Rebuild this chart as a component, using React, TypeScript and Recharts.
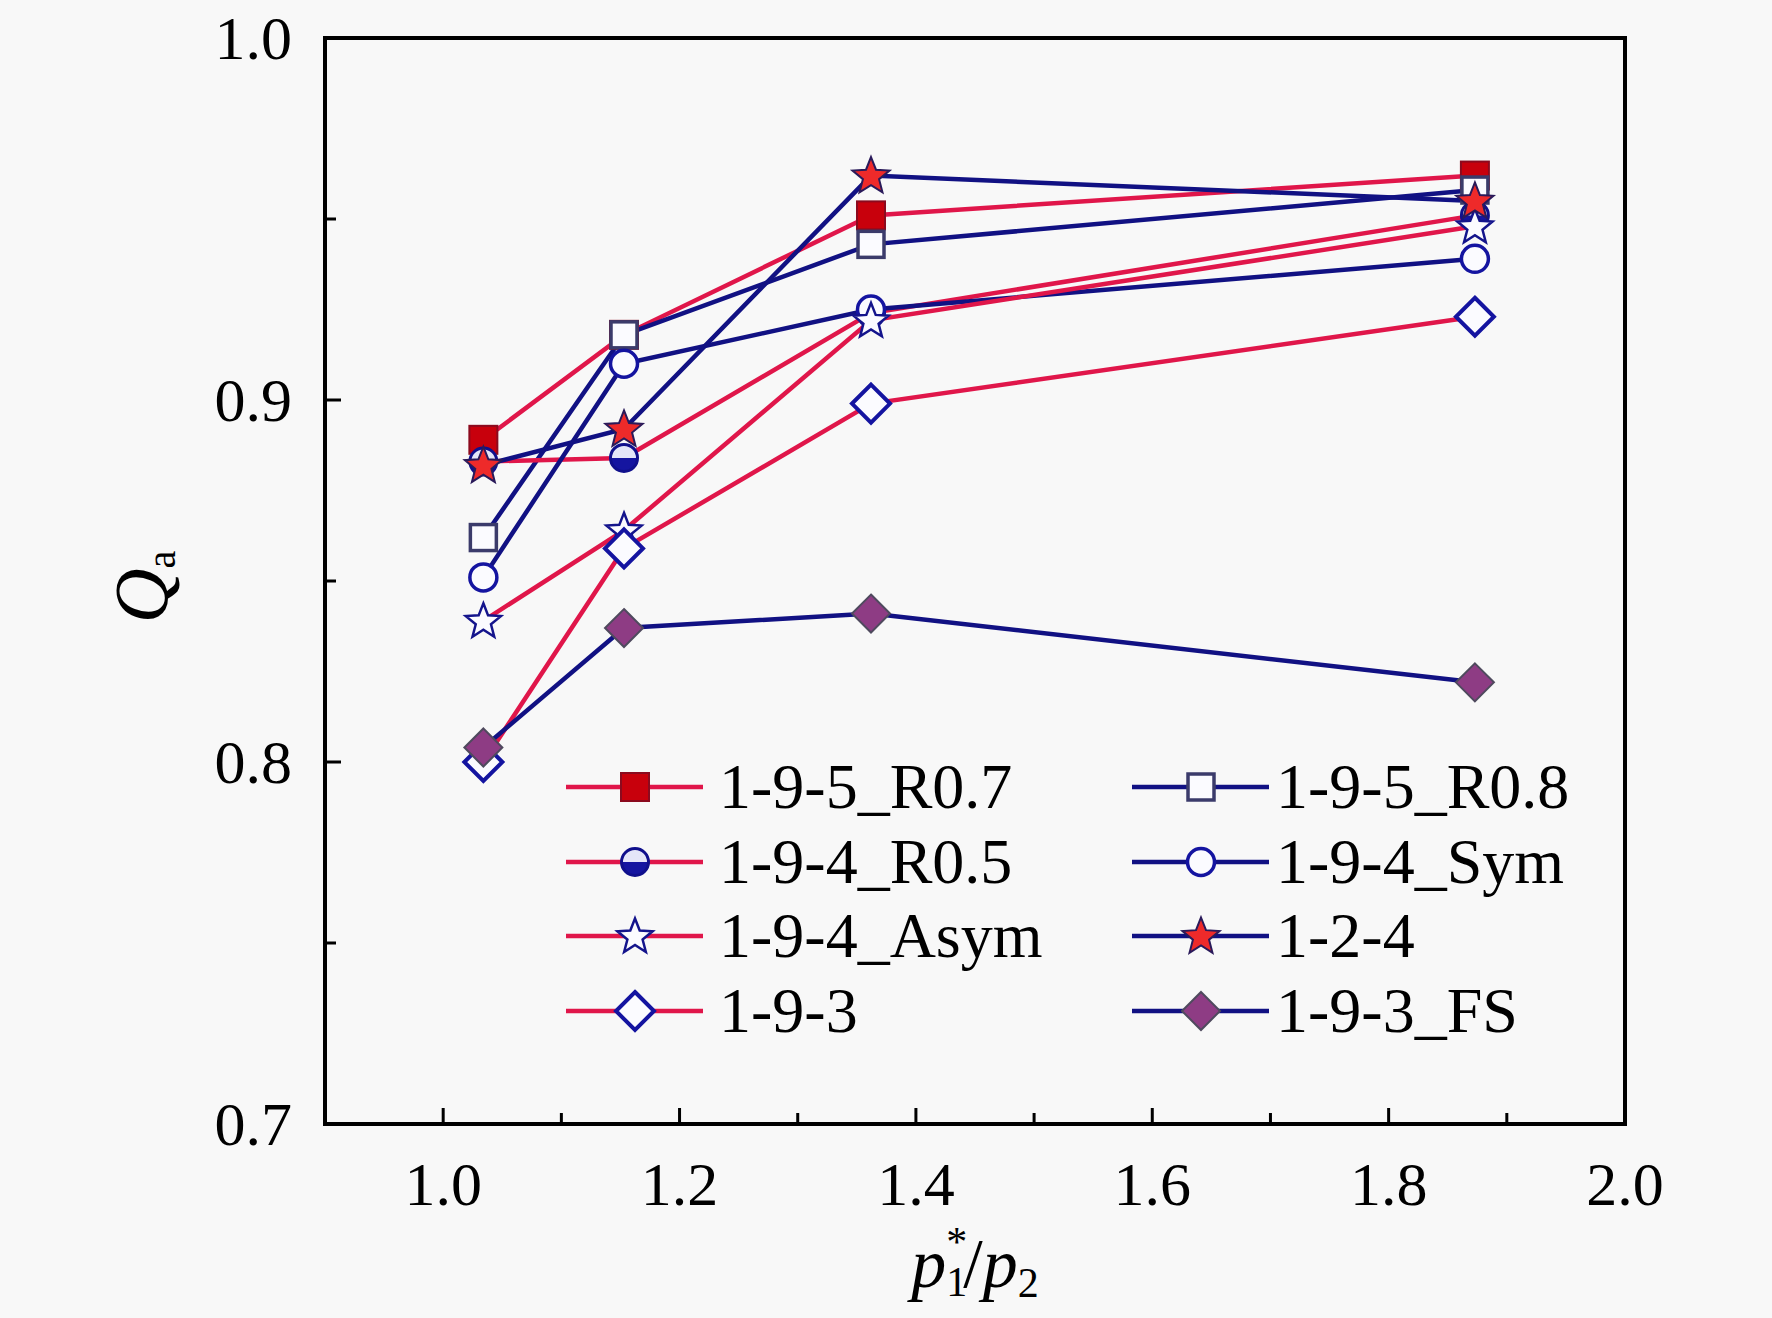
import React from "react";
import { LineChart, Line, XAxis, YAxis, Label, ReferenceArea } from "recharts";

const FONT = '"Liberation Serif", "Times New Roman", serif';
const RED = "#E0164A";
const NAVY = "#111183";

// x positions (p1*/p2)
const X_VALUES = [1.034, 1.153, 1.362, 1.873];

// Qa values per case
const R07 = [0.889, 0.918, 0.951, 0.962];
const R08 = [0.862, 0.918, 0.943, 0.958];
const R05 = [0.883, 0.884, 0.924, 0.951];
const SYM = [0.851, 0.91, 0.925, 0.939];
const ASYM = [0.839, 0.864, 0.922, 0.948];
const S124 = [0.882, 0.892, 0.962, 0.955];
const S193 = [0.8, 0.859, 0.899, 0.923];
const FS = [0.804, 0.837, 0.841, 0.822];

const NAMES = ["1-9-5_R0.7", "1-9-5_R0.8", "1-9-4_R0.5", "1-9-4_Sym", "1-9-4_Asym", "1-2-4", "1-9-3", "1-9-3_FS"];

// all tick positions; labelled ones are listed separately
const X_TICKS = [1.0, 1.1, 1.2, 1.3, 1.4, 1.5, 1.6, 1.7, 1.8, 1.9, 2.0];
const X_LABELS = ["1.0", "1.2", "1.4", "1.6", "1.8", "2.0"];
const Y_TICKS = [0.7, 0.75, 0.8, 0.85, 0.9, 0.95, 1.0];
const Y_LABELS = ["0.7", "0.8", "0.9", "1.0"];

const SERIES = [
  { key: "r07", name: NAMES[0], values: R07, color: RED, marker: "squareFilled" },
  { key: "r08", name: NAMES[1], values: R08, color: NAVY, marker: "squareOpen" },
  { key: "r05", name: NAMES[2], values: R05, color: RED, marker: "circleHalf" },
  { key: "sym", name: NAMES[3], values: SYM, color: NAVY, marker: "circleOpen" },
  { key: "asym", name: NAMES[4], values: ASYM, color: RED, marker: "starOpen" },
  { key: "s124", name: NAMES[5], values: S124, color: NAVY, marker: "starFilled" },
  { key: "s193", name: NAMES[6], values: S193, color: RED, marker: "diamondOpen" },
  { key: "fs", name: NAMES[7], values: FS, color: NAVY, marker: "diamondFilled" },
];

const rows = X_VALUES.map((x, i) => {
  const row: Record<string, number> = { x };
  SERIES.forEach((s) => (row[s.key] = s.values[i]));
  return row;
});

const starPoints = (cx: number, cy: number, R: number, r: number) => {
  const pts: string[] = [];
  for (let i = 0; i < 10; i++) {
    const a = ((-90 + i * 36) * Math.PI) / 180;
    const rad = i % 2 === 0 ? R : r;
    pts.push(`${cx + rad * Math.cos(a)},${cy + rad * Math.sin(a)}`);
  }
  return pts.join(" ");
};

const Marker = ({ kind, cx, cy }: { kind: string; cx: number; cy: number }) => {
  const s = 14;
  switch (kind) {
    case "squareFilled":
      return <rect x={cx - s} y={cy - s} width={2 * s} height={2 * s} fill="#C8000C" stroke="#8B0A1E" strokeWidth={2} />;
    case "squareOpen":
      return <rect x={cx - s + 1} y={cy - s + 1} width={2 * s - 2} height={2 * s - 2} fill="#fbfbff" stroke="#3B3B6B" strokeWidth={3.5} />;
    case "circleHalf":
      return (
        <g>
          <circle cx={cx} cy={cy} r={13.5} fill="#E4E6F8" />
          <path d={`M ${cx - 13.5} ${cy} A 13.5 13.5 0 0 0 ${cx + 13.5} ${cy} Z`} fill="#1515A0" />
          <circle cx={cx} cy={cy} r={13.5} fill="none" stroke="#10108C" strokeWidth={3} />
        </g>
      );
    case "circleOpen":
      return <circle cx={cx} cy={cy} r={13.5} fill="#fbfbff" stroke="#1414A0" strokeWidth={3.5} />;
    case "starOpen":
      return <polygon points={starPoints(cx, cy + 1, 18.5, 8)} fill="#fbfbff" stroke="#14148C" strokeWidth={2.5} />;
    case "starFilled":
      return <polygon points={starPoints(cx, cy + 1, 19.5, 8.5)} fill="#EE2A2A" stroke="#2A1A5A" strokeWidth={2} />;
    case "diamondOpen":
      return <polygon points={`${cx},${cy - 19} ${cx + 19},${cy} ${cx},${cy + 19} ${cx - 19},${cy}`} fill="#fbfbff" stroke="#1414A0" strokeWidth={4} />;
    default:
      return <polygon points={`${cx},${cy - 19} ${cx + 19},${cy} ${cx},${cy + 19} ${cx - 19},${cy}`} fill="#8E3C84" stroke="#4F4A5E" strokeWidth={2} />;
  }
};

const XTick = (props: any) => {
  const { x, y, payload } = props;
  const label = (payload.value as number).toFixed(1);
  const major = X_LABELS.includes(label);
  return (
    <g>
      <line x1={x} x2={x} y1={y} y2={y - (major ? 16 : 11)} stroke="#000" strokeWidth={3} />
      {major && (
        <text x={x} y={y + 81} textAnchor="middle" fontSize={62} fontFamily={FONT} fill="#000">
          {label}
        </text>
      )}
    </g>
  );
};

const YTick = (props: any) => {
  const { x, y, payload } = props;
  const v = payload.value as number;
  const label = v.toFixed(1);
  const major = Y_LABELS.includes(label) && Math.abs(v - Number(label)) < 1e-6;
  return (
    <g>
      <line x1={x} x2={x + (major ? 16 : 11)} y1={y} y2={y} stroke="#000" strokeWidth={3} />
      {major && (
        <text x={x - 33} y={y + 21} textAnchor="end" fontSize={62} fontFamily={FONT} fill="#000">
          {label}
        </text>
      )}
    </g>
  );
};

const XLabel = (props: any) => {
  const vb = props.viewBox;
  const cx = vb.x + vb.width / 2;
  const base = vb.y + 163;
  return (
    <text x={cx} y={base} textAnchor="middle" fontFamily={FONT} fill="#000">
      <tspan fontStyle="italic" fontSize={70}>p</tspan>
      <tspan fontSize={42} dy={9}>1</tspan>
      <tspan fontSize={42} dx={-21} dy={-40}>*</tspan>
      <tspan fontSize={70} dx={-4} dy={31}>/</tspan>
      <tspan fontStyle="italic" fontSize={70}>p</tspan>
      <tspan fontSize={42} dy={10}>2</tspan>
    </text>
  );
};

const YLabel = (props: any) => {
  const vb = props.viewBox;
  const bx = vb.x - 58;
  const cy = vb.y + vb.height / 2 + 6;
  return (
    <text x={bx} y={cy} textAnchor="middle" fontFamily={FONT} fill="#000" transform={`rotate(-90, ${bx}, ${cy})`}>
      <tspan fontStyle="italic" fontSize={76}>Q</tspan>
      <tspan fontSize={40} dy={8}>a</tspan>
    </text>
  );
};

const LegendBox = () => (
  <div style={{ position: "absolute", left: 0, top: 0, pointerEvents: "none" }}>
    {SERIES.map((s, i) => {
      const col = i % 2;
      const row = Math.floor(i / 2);
      return (
        <div
          key={s.key}
          style={{
            position: "absolute",
            left: 566 + col * 566,
            top: 787 + row * 74.7 - 35,
            height: 70,
            display: "flex",
            alignItems: "center",
            whiteSpace: "nowrap",
          }}
        >
          <svg width={137} height={70} style={{ display: "block" }}>
            <line x1={0} x2={137} y1={35} y2={35} stroke={s.color} strokeWidth={4.5} />
            <Marker kind={s.marker} cx={69} cy={35} />
          </svg>
          <span style={{ marginLeft: col === 0 ? 16 : 7, fontFamily: FONT, fontSize: 64, lineHeight: "70px", color: "#000" }}>
            {s.name}
          </span>
        </div>
      );
    })}
  </div>
);

export default function App() {
  return (
    <div style={{ width: 1772, height: 1318, background: "#f8f8f8", position: "relative" }}>
      <style>{`body{margin:0}`}</style>
      <LineChart width={1772} height={1318} data={rows} margin={{ top: 38, right: 147, bottom: 94, left: 225 }}>
        <XAxis
          type="number"
          dataKey="x"
          domain={[0.9, 2.0]}
          ticks={X_TICKS}
          interval={0}
          allowDataOverflow
          axisLine={false}
          tickLine={false}
          tickSize={0}
          tickMargin={0}
          height={100}
          tick={<XTick />}
        >
          <Label content={XLabel} />
        </XAxis>
        <YAxis
          type="number"
          domain={[0.7, 1.0]}
          ticks={Y_TICKS}
          interval={0}
          allowDataOverflow
          axisLine={false}
          tickLine={false}
          tickSize={0}
          tickMargin={0}
          width={100}
          tick={<YTick />}
        >
          <Label content={YLabel} />
        </YAxis>
        <ReferenceArea x1={0.9} x2={2.0} y1={0.7} y2={1.0} fill="none" stroke="#000" strokeWidth={4} ifOverflow="visible" />
        {SERIES.map((s) => (
          <Line
            key={s.key}
            type="linear"
            dataKey={s.key}
            name={s.name}
            stroke={s.color}
            strokeWidth={4.5}
            isAnimationActive={false}
            activeDot={false}
            dot={(p: any) => <Marker key={`${s.key}-${p.index}`} kind={s.marker} cx={p.cx} cy={p.cy} />}
          />
        ))}
      </LineChart>
      <LegendBox />
    </div>
  );
}
